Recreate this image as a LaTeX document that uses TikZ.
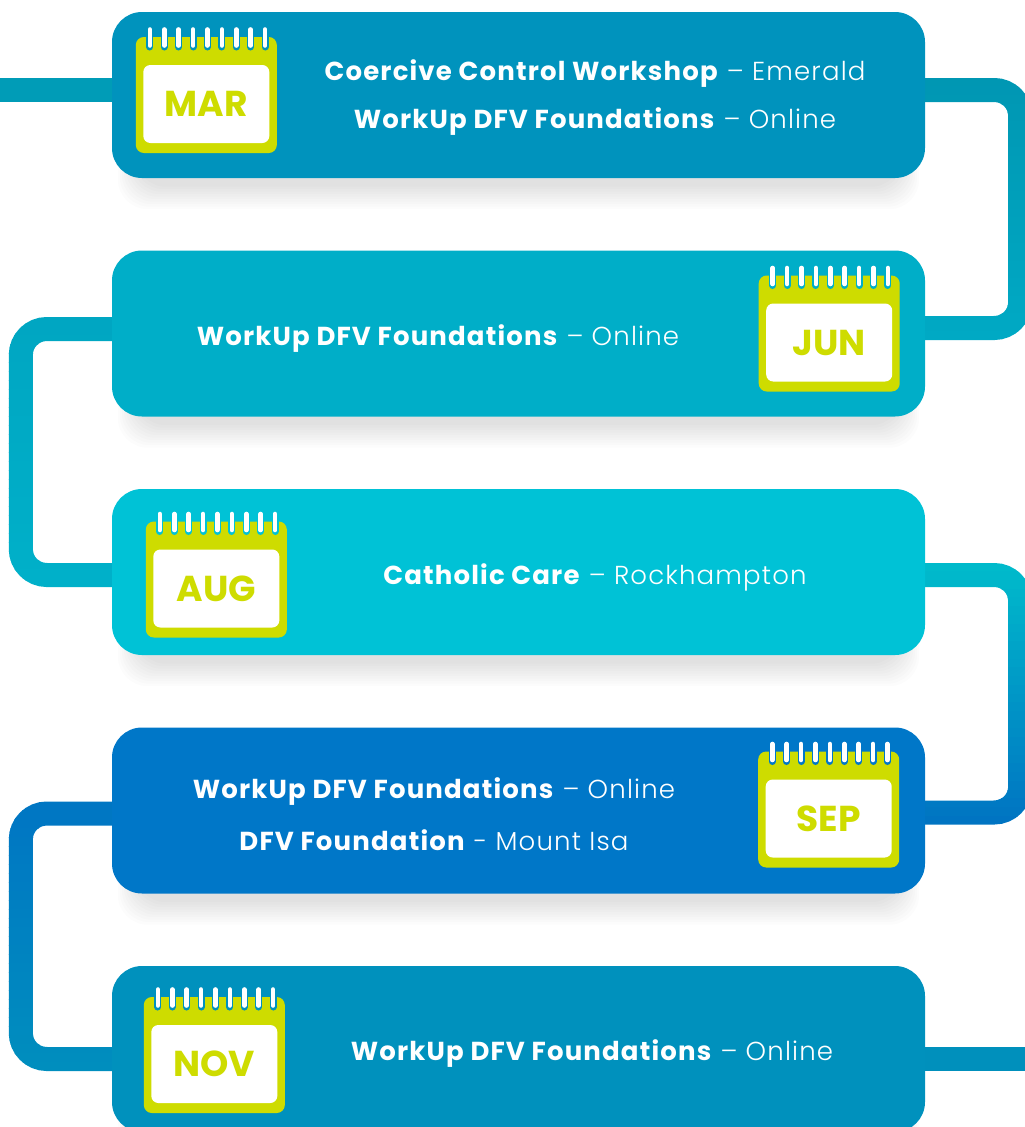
\documentclass[tikz,border=0pt]{standalone}
\usepackage{fontspec}
\setmainfont{Poppins}[LetterSpace=4.5]
\newfontfamily\lightfont{Poppins Light}[LetterSpace=4.5]
\newfontfamily\monthfont{Poppins}
\usetikzlibrary{calc,backgrounds}

\definecolor{boxA}{HTML}{0093BD}
\definecolor{boxB}{HTML}{00AEC8}
\definecolor{boxC}{HTML}{00C2D6}
\definecolor{boxD}{HTML}{0077C8}
\definecolor{boxE}{HTML}{0091BD}
\definecolor{calLime}{HTML}{CEDC00}
\definecolor{lnA}{HTML}{009CB7}
\definecolor{lnB}{HTML}{0097B3}
\definecolor{lnC}{HTML}{00A9C4}
\definecolor{lnD}{HTML}{00A6C2}
\definecolor{lnE}{HTML}{00B0C9}
\definecolor{lnF}{HTML}{00BACB}
\definecolor{lnG}{HTML}{0074C2}
\definecolor{lnH}{HTML}{0076C3}
\definecolor{lnI}{HTML}{008EBE}
\definecolor{lnJ}{HTML}{0090BC}

\tikzset{
  evtbox/.style={rounded corners=30pt, minimum width=813pt, minimum height=166pt, inner sep=0pt},
  evttext/.style={text=white, align=center, inner sep=0pt, font=\fontsize{26}{48}\selectfont},
  month/.style={text=calLime, inner sep=0pt, font=\monthfont\bfseries\fontsize{36}{36}\selectfont},
  link/.style={line width=24pt, rounded corners=26pt},
}

% calendar: name, centre, month, ring colour
\newcommand\calicon[4]{%
  \begin{scope}[shift={#2}]
    \fill[calLime, rounded corners=8pt] (-70.5,-58) rectangle (70.5,58);
    \fill[white, rounded corners=7pt] (-63,-30) rectangle (63,48);
    \foreach \r in {0,...,8}{
      \draw[line width=7pt, #4, line cap=round] ({-56.5+14.4*\r},-64) -- ++(0,16);
      \draw[line width=4.6pt, white, line cap=round] ({-56.5+14.4*\r},-65.5) -- ++(0,16);}
    \node[month] (#1) at (0,9) {#3};
  \end{scope}}

% connector with a top to bottom colour run
\newcommand\gradlink[5]{%
  \foreach \k in {0,...,29}{
    \pgfmathtruncatemacro\pc{100*\k/29}
    \begin{scope}
      \clip (-20,{#3+(#4-#3)*\k/30}) rectangle (1060,{#3+(#4-#3)*(\k+1)/30+0.6});
      \draw[link, #2!\pc!#1] #5;
    \end{scope}}}

\begin{document}
\begin{tikzpicture}[x=1pt,y=-1pt]
\useasboundingbox (0,0) rectangle (1025,1127);

\node[evtbox, fill=boxA] (b1) at (518.5,95) {};
\node[evtbox, fill=boxB] (b2) at (518.5,333.5) {};
\node[evtbox, fill=boxC] (b3) at (518.5,572) {};
\node[evtbox, fill=boxD] (b4) at (518.5,810.5) {};
\node[evtbox, fill=boxE] (b5) at (518.5,1049) {};

\begin{scope}[on background layer]
  \foreach \b in {b1,b2,b3,b4,b5}
    \foreach \s in {1,...,10}
      \fill[black, opacity=.012, rounded corners=30pt]
        ($(\b.north west)+(26-2*\s,30)$) rectangle ($(\b.south east)+(-26+2*\s,6+2.5*\s)$);

  \draw[link, lnA] ([shift={(20pt,5pt)}]b1.west) -- ++(-140,0);
  \gradlink{lnB}{lnC}{78}{340}{([shift={(-20pt,5pt)}]b1.east) -- ++(115,0) |- ([shift={(-20pt,5.5pt)}]b2.east)}
  \gradlink{lnD}{lnE}{317}{587}{([shift={(20pt,4.5pt)}]b2.west) -- ++(-111,0) |- ([shift={(20pt,-3pt)}]b3.west)}
  \gradlink{lnF}{lnG}{563}{825}{([shift={(-20pt,-3pt)}]b3.east) -- ++(115,0) |- ([shift={(-20pt,-2pt)}]b4.east)}
  \gradlink{lnH}{lnI}{801}{1071}{([shift={(20pt,-3pt)}]b4.west) -- ++(-111,0) |- ([shift={(20pt,-10pt)}]b5.west)}
  \draw[link, lnJ] ([shift={(-20pt,-10pt)}]b5.east) -- ++(140,0);
\end{scope}

\calicon{m1}{($(b1.west)+(94.5,0)$)}{MAR}{boxA}
\calicon{m2}{($(b2.east)+(-96,0)$)}{JUN}{boxB}
\calicon{m3}{($(b3.west)+(104.5,7.5)$)}{AUG}{boxC}
\calicon{m4}{($(b4.east)+(-96.5,-1)$)}{SEP}{boxD}
\calicon{m5}{($(b5.west)+(102.5,6)$)}{NOV}{boxE}

\node[evttext] (t1) at (595,98) {\textbf{Coercive Control Workshop} {\lightfont – Emerald}\\
  \textbf{WorkUp DFV Foundations} {\lightfont – Online}};
\node[evttext] (t2) at (438,339) {\textbf{WorkUp DFV Foundations} {\lightfont – Online}};
\node[evttext] (t3) at (595,577) {\textbf{Catholic Care} {\lightfont – Rockhampton}};
\node[evttext] (t4) at (434,814) {\textbf{WorkUp DFV Foundations} {\lightfont – Online}\\[4pt]
  \textbf{DFV Foundation} {\lightfont - Mount Isa}};
\node[evttext] (t5) at (592,1054) {\textbf{WorkUp DFV Foundations} {\lightfont – Online}};

\end{tikzpicture}
\end{document}
